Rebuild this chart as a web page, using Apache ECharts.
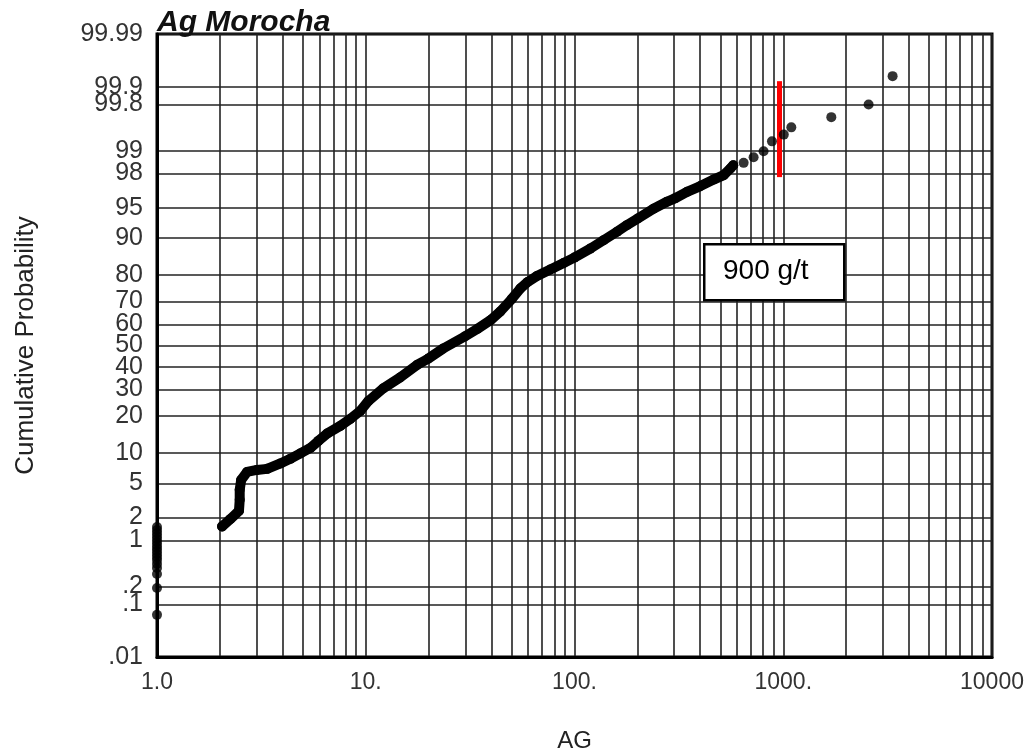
<!DOCTYPE html>
<html>
<head>
<meta charset="utf-8">
<title>Ag Morocha</title>
<script src="https://cdn.jsdelivr.net/npm/echarts@6/dist/echarts.min.js"></script>
<style>
  html, body { margin: 0; padding: 0; background: #fff; }
  #chart { width: 1024px; height: 753px; }
</style>
</head>
<body>
<div id="chart"></div>
<script>
// probability plot: AG grade (log) against cumulative probability (normal scale)
var bodyAg = [2.05, 2.24, 2.47, 2.49, 2.49, 2.53, 2.70, 3.01, 3.37, 3.90,
    4.35, 4.86, 5.43, 5.93, 6.55, 7.55, 8.43, 9.42, 10.3, 12.1,
    14.6, 17.6, 19.8, 23.5, 29.8, 34.2, 39.7, 44.1, 50.0, 55.0,
    59.6, 66.1, 76.6, 88.7, 99.8, 119, 138, 160, 178, 201,
    239, 277, 302, 346, 401, 464, 518, 558, 576];
var bodyProb = [1.54, 1.90, 2.42, 3.27, 4.24, 5.42, 6.56, 6.87, 7.04, 7.95,
    8.80, 9.87, 11.07, 12.74, 14.70, 16.85, 19.03, 21.73, 25.40, 30.40,
    35.13, 40.81, 43.60, 48.57, 54.28, 57.81, 61.96, 65.76, 71.04, 75.17,
    77.55, 79.64, 81.78, 83.75, 85.30, 87.63, 89.58, 91.30, 92.46, 93.54,
    94.88, 95.69, 96.04, 96.67, 97.15, 97.62, 97.90, 98.27, 98.43];

// high tail
var tailAg = [646, 721, 805, 883, 1006, 1093, 1699, 2564, 3341];
var tailProb = [98.54, 98.77, 98.98, 99.26, 99.41, 99.54, 99.68, 99.80, 99.935];

// values at 1.0 (detection limit)
var lowAg = [1, 1, 1, 1, 1, 1, 1, 1, 1, 1, 1, 1, 1, 1, 1, 1, 1];
var lowProb = [1.51, 1.38, 1.26, 1.15, 1.04, 0.95, 0.86, 0.78, 0.71, 0.64,
    0.58, 0.52, 0.454, 0.395, 0.319, 0.19, 0.065];

// cut-off marker
var cutoffAg = 962;
var cutoffProb = [97.78, 99.92];
var cutoffText = '900 g/t';

// axis ticks
var yTickProb = [0.01, 0.1, 0.2, 1, 2, 5, 10, 20, 30, 40, 50, 60, 70, 80, 90, 95, 98, 99, 99.8, 99.9, 99.99];
var yTickLabels = ['.01', '.1', '.2', '1', '2', '5', '10', '20', '30', '40', '50', '60', '70', '80', '90', '95', '98', '99', '99.8', '99.9', '99.99'];
var xLabelValues = [1, 10, 100, 1000, 10000];
var xLabels = ['1.0', '10.', '100.', '1000.', '10000'];

// inverse normal cdf (Acklam)
function qnorm(p) {
    var a = [-3.969683028665376e+01, 2.209460984245205e+02, -2.759285104469687e+02, 1.383577518672690e+02, -3.066479806614716e+01, 2.506628277459239e+00];
    var b = [-5.447609879822406e+01, 1.615858368580409e+02, -1.556989798598866e+02, 6.680131188771972e+01, -1.328068155288572e+01];
    var c = [-7.784894002430293e-03, -3.223964580411365e-01, -2.400758277161838e+00, -2.549732539343734e+00, 4.374664141464968e+00, 2.938163982698783e+00];
    var d = [7.784695709041462e-03, 3.224671290700398e-01, 2.445134137142996e+00, 3.754408661907416e+00];
    var q, r;
    if (p < 0.02425) {
        q = Math.sqrt(-2 * Math.log(p));
        return (((((c[0] * q + c[1]) * q + c[2]) * q + c[3]) * q + c[4]) * q + c[5]) / ((((d[0] * q + d[1]) * q + d[2]) * q + d[3]) * q + 1);
    }
    if (p <= 1 - 0.02425) {
        q = p - 0.5; r = q * q;
        return (((((a[0] * r + a[1]) * r + a[2]) * r + a[3]) * r + a[4]) * r + a[5]) * q / (((((b[0] * r + b[1]) * r + b[2]) * r + b[3]) * r + b[4]) * r + 1);
    }
    q = Math.sqrt(-2 * Math.log(1 - p));
    return -(((((c[0] * q + c[1]) * q + c[2]) * q + c[3]) * q + c[4]) * q + c[5]) / ((((d[0] * q + d[1]) * q + d[2]) * q + d[3]) * q + 1);
}
function py(pct) { return qnorm(pct / 100); }
function px(v) { return Math.log10(v); }

function toPoints(xs, ps) {
    var out = [];
    for (var i = 0; i < xs.length; i++) out.push([px(xs[i]), py(ps[i])]);
    return out;
}

var yTickZ = yTickProb.map(py);
var yMin = yTickZ[0], yMax = yTickZ[yTickZ.length - 1];

// x grid lines at 1..9 of each decade
var xTickLog = [];
for (var dec = 1; dec < 10000; dec *= 10) {
    for (var k = 1; k < 10; k++) xTickLog.push(px(k * dec));
}
xTickLog.push(4);
var xLabelLog = xLabelValues.map(px);

function nearestLabel(v, vals, labels) {
    for (var i = 0; i < vals.length; i++) {
        if (Math.abs(vals[i] - v) < 1e-6) return labels[i];
    }
    return '';
}

var font = 'Liberation Sans, Arial, sans-serif';
var chart = echarts.init(document.getElementById('chart'));

var option = {
    animation: false,
    title: {
        text: 'Ag Morocha',
        left: 152,
        top: 3,
        textStyle: { fontSize: 30, fontWeight: 'bold', fontStyle: 'italic', color: '#111', fontFamily: font }
    },
    grid: {
        left: 157, right: 32, top: 34, bottom: 96,
        outerBoundsMode: 'none',
        containLabel: false,
        show: true, borderColor: '#000', borderWidth: 3
    },
    xAxis: {
        type: 'value',
        min: 0, max: 4,
        name: 'AG',
        nameLocation: 'middle',
        nameGap: 72,
        nameTextStyle: { fontSize: 24, color: '#222', fontFamily: font },
        axisLine: { show: true, onZero: false, lineStyle: { color: '#000', width: 3 } },
        axisTick: { show: false, customValues: xTickLog },
        axisLabel: {
            customValues: xLabelLog,
            fontSize: 23, color: '#333', fontFamily: font, margin: 14,
            formatter: function (v) { return nearestLabel(v, xLabelLog, xLabels); }
        },
        splitLine: { show: true, lineStyle: { color: '#222', width: 1.6 } }
    },
    yAxis: {
        type: 'value',
        min: yMin, max: yMax,
        name: 'Cumulative Probability',
        nameLocation: 'middle',
        nameGap: 118,
        nameTextStyle: { fontSize: 26, color: '#222', fontFamily: font },
        axisLine: { show: true, onZero: false, lineStyle: { color: '#000', width: 3 } },
        axisTick: { show: false, customValues: yTickZ },
        axisLabel: {
            customValues: yTickZ,
            fontSize: 25, color: '#333', fontFamily: font, margin: 14,
            formatter: function (v) { return nearestLabel(v, yTickZ, yTickLabels); }
        },
        splitLine: { show: true, lineStyle: { color: '#222', width: 1.6 } }
    },
    series: [
        {
            name: 'body',
            type: 'line',
            data: toPoints(bodyAg, bodyProb),
            symbol: 'circle',
            symbolSize: 10,
            itemStyle: { color: '#000' },
            lineStyle: { color: '#000', width: 10, cap: 'round', join: 'round' },
            z: 5
        },
        {
            name: 'tail',
            type: 'scatter',
            data: toPoints(tailAg, tailProb),
            symbolSize: 10,
            itemStyle: { color: '#000' },
            z: 5,
            markLine: {
                silent: true,
                symbol: ['none', 'none'],
                label: { show: false },
                lineStyle: { color: '#ff0000', width: 5, type: 'solid' },
                data: [[
                    { coord: [px(cutoffAg), py(cutoffProb[0])] },
                    { coord: [px(cutoffAg), py(cutoffProb[1])] }
                ]]
            }
        },
        {
            name: 'low',
            type: 'scatter',
            data: toPoints(lowAg, lowProb),
            symbolSize: 10,
            clip: false,
            itemStyle: { color: '#000' },
            z: 5
        }
    ],
    graphic: [
        { type: 'rect', left: 703, top: 243, z: 100,
          shape: { width: 140, height: 56 },
          style: { fill: '#fff', stroke: '#000', lineWidth: 2.5 } },
        { type: 'text', left: 723, top: 257, z: 101,
          style: { text: cutoffText, fontSize: 28, fontFamily: font, fill: '#000' } }
    ]
};
chart.setOption(option);
</script>
</body>
</html>
